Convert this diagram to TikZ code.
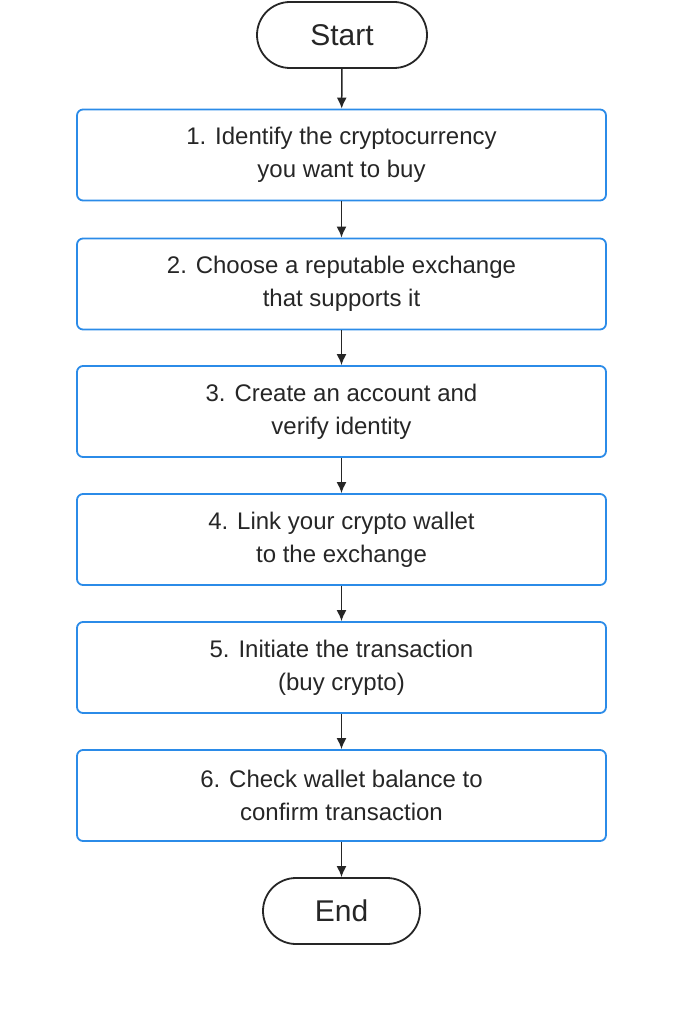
\documentclass[tikz,border=0pt]{standalone}
\usepackage{fontspec}
\setmainfont{Liberation Sans}
\usetikzlibrary{arrows.meta}
\definecolor{bblue}{HTML}{2B8BE8}
\begin{document}
\begin{tikzpicture}[x=1pt,y=-1pt,
 stepbox/.style={draw=bblue,line width=1.8pt,rounded corners=6pt,minimum width=529pt,minimum height=91pt,align=center,font=\fontsize{24}{33}\selectfont,text=black!85},
 term/.style={draw=black!85,line width=1.8pt,rounded corners=33pt,minimum height=66pt,font=\fontsize{30}{32}\selectfont,text=black!85},
 arr/.style={-{Latex[length=11pt,width=10pt]},line width=1.5pt,draw=black!85}]
\useasboundingbox (0,0) rectangle (683,1024);
\node[term,minimum width=170pt] (s) at (342,35) {Start};
\node[stepbox] (b1) at (341.5,155) {1. Identify the cryptocurrency\\you want to buy};
\node[stepbox] (b2) at (341.5,284) {2. Choose a reputable exchange\\that supports it};
\node[stepbox] (b3) at (341.5,411.5) {3. Create an account and\\verify identity};
\node[stepbox] (b4) at (341.5,539.5) {4. Link your crypto wallet\\to the exchange};
\node[stepbox] (b5) at (341.5,667.5) {5. Initiate the transaction\\(buy crypto)};
\node[stepbox] (b6) at (341.5,795.5) {6. Check wallet balance to\\confirm transaction};
\node[term,minimum width=157pt] (e) at (341.5,911) {End};
\draw[arr] (s) -- (b1);
\draw[arr] (b1) -- (b2);
\draw[arr] (b2) -- (b3);
\draw[arr] (b3) -- (b4);
\draw[arr] (b4) -- (b5);
\draw[arr] (b5) -- (b6);
\draw[arr] (b6) -- (e);
\end{tikzpicture}
\end{document}
